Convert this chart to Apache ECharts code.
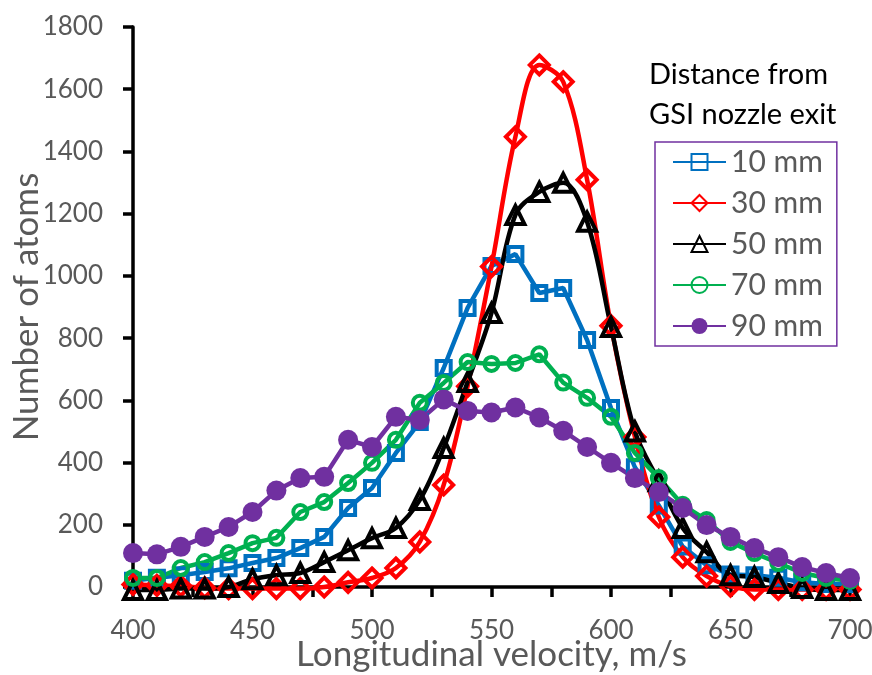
<!DOCTYPE html>
<html>
<head>
<meta charset="utf-8">
<script src="https://cdn.jsdelivr.net/npm/echarts@6/dist/echarts.min.js"></script>
<style>
html,body{margin:0;padding:0;background:#fff;}
#chart{width:872px;height:675px;}
</style>
</head>
<body>
<div id="chart"></div>
<script>
// Longitudinal velocity, m/s
const velocity = [400,410,420,430,440,450,460,470,480,490,500,510,520,530,540,550,560,570,580,590,600,610,620,630,640,650,660,670,680,690,700];
const mm10 = [20,30,38,48,60,77,93,125,161,254,318,431,530,704,897,1032,1070,945,961,794,575,385,262,130,70,40,38,30,15,10,10];
const mm30 = [8,5,3,-3,-5,-5,-5,-5,0,15,29,61,145,328,645,1030,1447,1678,1624,1309,840,482,225,96,35,3,-8,-8,-8,-8,-8];
const mm50 = [-10,-10,-5,-5,0,25,38,45,80,118,157,190,280,447,659,881,1196,1270,1299,1174,836,500,340,190,112,38,32,13,-3,-10,-10];
const mm70 = [29,29,61,80,109,141,158,241,273,334,399,473,592,656,723,717,720,748,657,608,547,431,350,264,215,145,109,77,45,29,20];
const mm90 = [109,105,129,161,193,241,310,350,354,473,450,547,537,603,566,561,577,545,502,450,399,350,305,254,199,161,125,96,64,45,29];
const seriesNames = ['10 mm','30 mm','50 mm','70 mm','90 mm'];
const xTicks = {min:400, max:700, interval:50};
const yTicks = {min:0, max:1800, interval:200};

const pairs = arr => velocity.map((v,i)=>[v,arr[i]]);
const FONT = 'Lato';
const GRAY = '#595959';

function mk(name, data, color, symbol, size, filled, smooth){
  return {
    name, type:'line', data: pairs(data), smooth: smooth ? 0.35 : false,
    clip:false, symbol, symbolSize:size, showAllSymbol:true,
    lineStyle:{color, width:4.5},
    itemStyle: filled ? {color, borderColor:color, borderWidth:0}
                      : {color:'rgba(255,255,255,0)', borderColor:color, borderWidth:4},
    emphasis:{disabled:true}, animation:false
  };
}

const chart = echarts.init(document.getElementById('chart'), null, {renderer:'canvas'});
chart.setOption({
  animation:false,
  grid:{left:133, right:22, top:27, bottom:88, containLabel:false, outerBoundsMode:'none'},
  xAxis:{
    type:'value', min:xTicks.min, max:xTicks.max, interval:xTicks.interval,
    name:'Longitudinal velocity, m/s', nameLocation:'middle', nameGap:50, nameMoveOverlap:false,
    nameTextStyle:{fontFamily:FONT, fontSize:35, color:GRAY},
    axisLine:{show:true, onZero:false, lineStyle:{color:'#000', width:3.5}},
    axisTick:{show:true, length:10, lineStyle:{color:'#000', width:3.5}},
    minorTick:{show:true, splitNumber:2, length:10, lineStyle:{color:'#000', width:3.5}},
    axisLabel:{fontFamily:FONT, fontSize:26, color:GRAY, margin:31, formatter:v=>String(v)},
    splitLine:{show:false}
  },
  yAxis:{
    type:'value', min:yTicks.min, max:yTicks.max, interval:yTicks.interval,
    name:'Number of atoms', nameLocation:'middle', nameGap:89, nameRotate:90, nameMoveOverlap:false,
    nameTextStyle:{fontFamily:FONT, fontSize:35, color:GRAY},
    axisLine:{show:true, lineStyle:{color:'#000', width:3.5}},
    axisTick:{show:true, length:10, lineStyle:{color:'#000', width:3.5}},
    axisLabel:{fontFamily:FONT, fontSize:26, color:GRAY, margin:30, formatter:v=>String(v)},
    splitLine:{show:false}
  },
  legend:{
    orient:'vertical', left:655, top:142,
    padding:[5,14,5,17], itemGap:11, itemWidth:53, itemHeight:20,
    borderColor:'#7030A0', borderWidth:1.5,
    textStyle:{fontFamily:FONT, fontSize:30, color:GRAY, lineHeight:30},
    data: seriesNames
  },
  graphic:[{
    type:'text', left:649, top:55,
    style:{text:'Distance from\nGSI nozzle exit', font:'29px '+FONT, fill:'#000', lineHeight:40}
  }],
  series:[
    mk(seriesNames[0], mm10, '#0070C0', 'rect', 14, false, false),
    mk(seriesNames[1], mm30, '#FF0000', 'diamond', 19, false, true),
    mk(seriesNames[2], mm50, '#000000', 'triangle', 18, false, true),
    mk(seriesNames[3], mm70, '#00B050', 'circle', 14, false, false),
    mk(seriesNames[4], mm90, '#7030A0', 'circle', 20, true, false)
  ]
});
</script>
</body>
</html>
